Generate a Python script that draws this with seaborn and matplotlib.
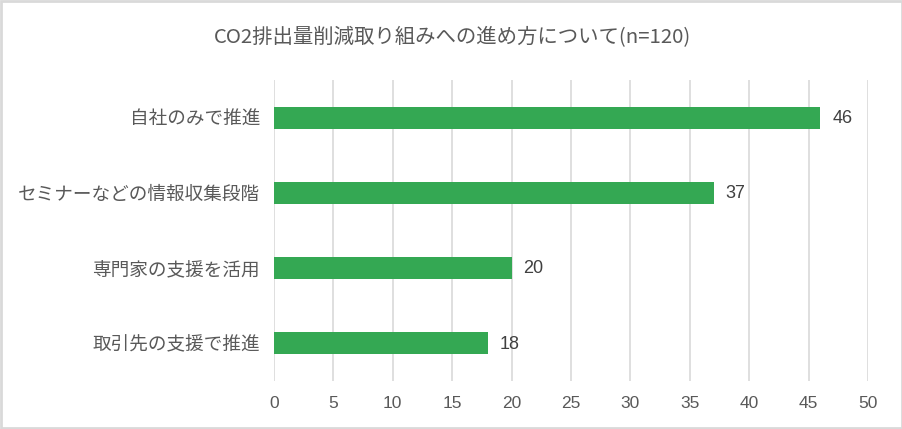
import matplotlib
matplotlib.use("Agg")
import matplotlib.pyplot as plt
import seaborn as sns
import pandas as pd
from matplotlib.patches import Rectangle

categories = ["自社のみで推進", "セミナーなどの情報収集段階", "専門家の支援を活用", "取引先の支援で推進"]
values = [46, 37, 20, 18]
xticks = [0, 5, 10, 15, 20, 25, 30, 35, 40, 45, 50]
title = "CO2排出量削減取り組みへの進め方について(n=120)"

sns.set_theme(style="white")
plt.rcParams['font.family'] = ['Noto Sans CJK JP', 'DejaVu Sans']

df = pd.DataFrame({"cat": categories, "val": values})
text_color = "#595959"
bar_color = "#34A853"

fig = plt.figure(figsize=(9.03, 4.29), dpi=100)
ax = fig.add_axes([274/903, 1-381/429, (868-274)/903, (381-80)/429])
sns.barplot(data=df, y="cat", x="val", color=bar_color, width=0.29, ax=ax,
            saturation=1, linewidth=0, edgecolor="none")

ax.set_xlim(0, 50)
ax.set_xticks(xticks)
ax.set_xticklabels([str(t) for t in xticks], fontsize=12.5, color=text_color,
                   family=['Liberation Sans', 'DejaVu Sans'])
ax.tick_params(axis='y', labelsize=13.4, colors=text_color, length=0, pad=10)
ax.tick_params(axis='x', length=0, pad=11)
ax.set_xlabel("")
ax.set_ylabel("")
ax.xaxis.grid(True, color="#d9d9d9", linewidth=1.2)
ax.set_axisbelow(True)
for s in ax.spines.values():
    s.set_visible(False)

for i, v in enumerate(values):
    ax.text(v + 1.0, i + 0.01, str(v), va='center', ha='left', fontsize=13, color="#404040",
            family=['Liberation Sans', 'DejaVu Sans'])

fig.text(453/903, 1-38/429, title, ha='center', va='center', fontsize=14.7, color=text_color)
fig.patches.append(Rectangle((0.001, 0.002), 0.998, 0.996, transform=fig.transFigure,
                             fill=False, edgecolor="#d9d9d9", linewidth=2))
fig.savefig("out.png", dpi=100)
